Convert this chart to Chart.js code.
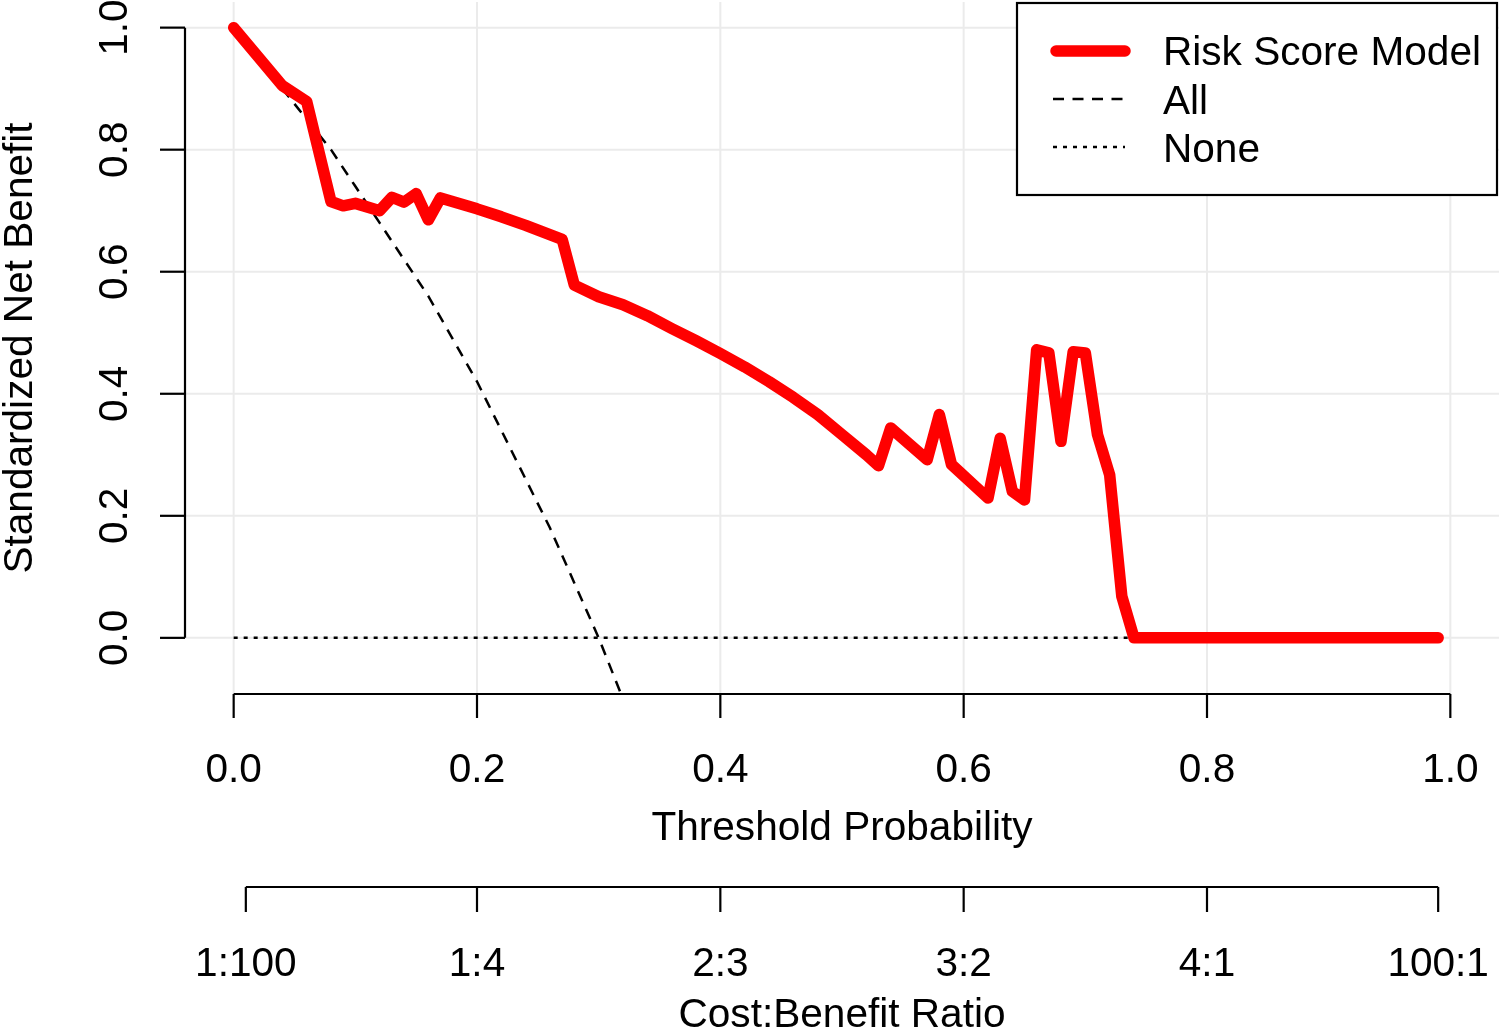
<!DOCTYPE html>
<html>
<head>
<meta charset="utf-8">
<title>Decision curve</title>
<script src="https://cdn.jsdelivr.net/npm/chart.js@4.4.0/dist/chart.umd.min.js"></script>
<style>
  html, body { margin: 0; padding: 0; background: #fff; }
  #wrap { width: 1499px; height: 1030px; }
</style>
</head>
<body>
<div id="wrap"><canvas id="dca" width="1499" height="1030"></canvas></div>
<script>
// values
const modelThresholds = [0, 0.04, 0.06, 0.08, 0.09, 0.10, 0.12, 0.13, 0.14, 0.15, 0.16, 0.17,
  0.20, 0.22, 0.24, 0.27, 0.28, 0.30, 0.32, 0.34, 0.36, 0.38, 0.40, 0.42, 0.44, 0.46, 0.48,
  0.50, 0.52, 0.53, 0.54, 0.57, 0.58, 0.59, 0.62, 0.63, 0.64, 0.65, 0.66, 0.67, 0.68, 0.69,
  0.70, 0.71, 0.72, 0.73, 0.74, 0.99];
const modelBenefit = [1.000, 0.905, 0.879, 0.715, 0.708, 0.712, 0.700, 0.722, 0.714, 0.728, 0.685, 0.721,
  0.703, 0.690, 0.676, 0.653, 0.578, 0.559, 0.546, 0.528, 0.507, 0.487, 0.466, 0.444, 0.420, 0.394, 0.366,
  0.333, 0.300, 0.282, 0.344, 0.292, 0.366, 0.284, 0.229, 0.327, 0.240, 0.226, 0.472, 0.467, 0.322, 0.469,
  0.467, 0.333, 0.267, 0.068, 0.000, 0.000];

const allThresholds = [0, 0.02, 0.04, 0.06, 0.08, 0.10, 0.12, 0.14, 0.16, 0.18, 0.20, 0.22, 0.24,
  0.26, 0.28, 0.30, 0.32];
const allBenefit = [1.00, 0.95, 0.90, 0.85, 0.80, 0.74, 0.68, 0.62, 0.56, 0.49, 0.42, 0.34, 0.26,
  0.18, 0.09, 0.00, -0.10];

const noneThresholds = [0, 0.99];
const noneBenefit = [0, 0];

const xTicks = [0, 0.2, 0.4, 0.6, 0.8, 1.0];
const xTickLabels = ["0.0", "0.2", "0.4", "0.6", "0.8", "1.0"];
const yTicks = [0, 0.2, 0.4, 0.6, 0.8, 1.0];
const yTickLabels = ["0.0", "0.2", "0.4", "0.6", "0.8", "1.0"];
const costTicks = [0.01, 0.2, 0.4, 0.6, 0.8, 0.99];
const costLabels = ["1:100", "1:4", "2:3", "3:2", "4:1", "100:1"];

const seriesNames = ["Risk Score Model", "All", "None"];

const toPoints = (xs, ys) => xs.map((x, i) => ({ x: x, y: ys[i] }));

const FONT = '40.6px "Liberation Sans", Arial, sans-serif';
const AXIS_W = 2.2;

// R style axes, grid and boxed legend, positioned through the chart scales
const rStyle = {
  id: "rStyle",
  beforeDatasetsDraw(chart) {
    const { ctx, chartArea: a, scales: { x, y } } = chart;
    ctx.save();
    ctx.strokeStyle = "#ebebeb";
    ctx.lineWidth = 2;
    xTicks.forEach((t) => {
      const px = x.getPixelForValue(t);
      ctx.beginPath(); ctx.moveTo(px, a.top); ctx.lineTo(px, a.bottom); ctx.stroke();
    });
    yTicks.forEach((t) => {
      const py = y.getPixelForValue(t);
      ctx.beginPath(); ctx.moveTo(a.left, py); ctx.lineTo(a.right, py); ctx.stroke();
    });
    ctx.restore();
  },
  afterDraw(chart) {
    const { ctx, chartArea: a, scales: { x, y } } = chart;
    ctx.save();
    ctx.strokeStyle = "#000";
    ctx.fillStyle = "#000";
    ctx.lineWidth = AXIS_W;
    ctx.font = FONT;

    // y axis
    const y0 = y.getPixelForValue(yTicks[0]);
    const y1 = y.getPixelForValue(yTicks[yTicks.length - 1]);
    ctx.beginPath(); ctx.moveTo(a.left, y0); ctx.lineTo(a.left, y1); ctx.stroke();
    yTicks.forEach((t, i) => {
      const py = y.getPixelForValue(t);
      ctx.beginPath(); ctx.moveTo(a.left, py); ctx.lineTo(a.left - 25, py); ctx.stroke();
      ctx.save();
      ctx.translate(127, py);
      ctx.rotate(-Math.PI / 2);
      ctx.textAlign = "center";
      ctx.textBaseline = "alphabetic";
      ctx.fillText(yTickLabels[i], 0, 0);
      ctx.restore();
    });
    ctx.save();
    ctx.translate(32, (a.top + a.bottom) / 2);
    ctx.rotate(-Math.PI / 2);
    ctx.textAlign = "center";
    ctx.fillText("Standardized Net Benefit", 0, 0);
    ctx.restore();

    // threshold axis
    const axisY = a.bottom;
    ctx.beginPath();
    ctx.moveTo(x.getPixelForValue(xTicks[0]), axisY);
    ctx.lineTo(x.getPixelForValue(xTicks[xTicks.length - 1]), axisY);
    ctx.stroke();
    ctx.textAlign = "center";
    ctx.textBaseline = "alphabetic";
    xTicks.forEach((t, i) => {
      const px = x.getPixelForValue(t);
      ctx.beginPath(); ctx.moveTo(px, axisY); ctx.lineTo(px, axisY + 24); ctx.stroke();
      ctx.fillText(xTickLabels[i], px, 782);
    });
    ctx.fillText("Threshold Probability", (a.left + a.right) / 2, 840);

    // cost:benefit axis
    const costY = 887;
    ctx.beginPath();
    ctx.moveTo(x.getPixelForValue(costTicks[0]), costY);
    ctx.lineTo(x.getPixelForValue(costTicks[costTicks.length - 1]), costY);
    ctx.stroke();
    costTicks.forEach((t, i) => {
      const px = x.getPixelForValue(t);
      ctx.beginPath(); ctx.moveTo(px, costY); ctx.lineTo(px, costY + 25); ctx.stroke();
      ctx.fillText(costLabels[i], px, 976);
    });
    ctx.fillText("Cost:Benefit Ratio", (a.left + a.right) / 2, 1027);

    // legend box
    ctx.fillStyle = "#fff";
    ctx.fillRect(1017, 3, 480, 192);
    ctx.strokeRect(1017, 3, 480, 192);
    ctx.fillStyle = "#000";
    const ds = chart.data.datasets;
    const rows = [51, 99, 147];
    const bases = [65, 113.5, 162];
    ds.forEach((d, i) => {
      ctx.save();
      ctx.strokeStyle = d.borderColor;
      ctx.lineWidth = d.borderWidth;
      ctx.lineCap = d.borderCapStyle || "butt";
      ctx.setLineDash(d.borderDash || []);
      ctx.beginPath();
      if (i === 0) { ctx.moveTo(1056, rows[i]); ctx.lineTo(1125, rows[i]); }
      else { ctx.moveTo(1053, rows[i]); ctx.lineTo(1125, rows[i]); }
      ctx.stroke();
      ctx.restore();
      ctx.textAlign = "left";
      ctx.fillText(d.label, 1163, bases[i]);
    });
    ctx.restore();
  }
};

new Chart(document.getElementById("dca"), {
  type: "line",
  data: {
    datasets: [
      {
        label: seriesNames[0],
        data: toPoints(modelThresholds, modelBenefit),
        borderColor: "#ff0000",
        borderWidth: 11.5,
        borderCapStyle: "round",
        borderJoinStyle: "round",
        pointRadius: 0,
        tension: 0
      },
      {
        label: seriesNames[1],
        data: toPoints(allThresholds, allBenefit),
        borderColor: "#000000",
        borderWidth: 2.5,
        borderDash: [11, 8.5],
        pointRadius: 0,
        tension: 0
      },
      {
        label: seriesNames[2],
        data: toPoints(noneThresholds, noneBenefit),
        borderColor: "#000000",
        borderWidth: 2.5,
        borderDash: [4, 6],
        pointRadius: 0,
        tension: 0
      }
    ]
  },
  options: {
    responsive: false,
    animation: false,
    devicePixelRatio: 1,
    layout: { padding: { left: 185, right: 0, top: 2, bottom: 336 } },
    plugins: { legend: { display: false }, tooltip: { enabled: false }, title: { display: false } },
    scales: {
      x: { type: "linear", min: -0.04, max: 1.04, display: false },
      y: { type: "linear", min: -0.092, max: 1.042, display: false }
    }
  },
  plugins: [rStyle]
});
</script>
</body>
</html>
